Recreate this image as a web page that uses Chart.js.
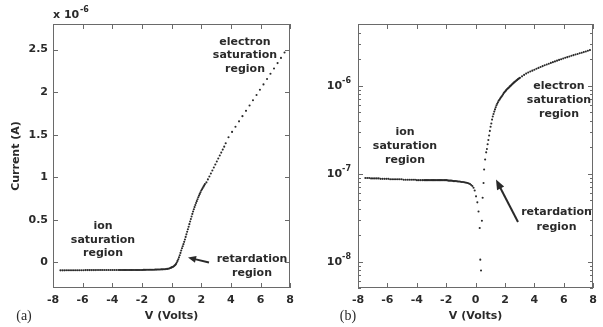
<!DOCTYPE html>
<html><head><meta charset="utf-8">
<script src="https://cdn.jsdelivr.net/npm/chart.js@4.4.1/dist/chart.umd.min.js"></script>
<style>
html,body{margin:0;padding:0;background:#fff;}
#wrap{position:relative;width:603px;height:327px;overflow:hidden;background:#fff;}
canvas{position:absolute;top:0;}
#ca{left:0;width:300px;height:327px;}
#cb{left:300px;width:303px;height:327px;}
</style></head><body>
<div id="wrap"><canvas id="ca" width="300" height="327"></canvas><canvas id="cb" width="303" height="327"></canvas></div>
<script>
// ---------- Panel (a): linear current, units of 1e-6 A ----------
const voltsA = [
 -7.50,-7.37,-7.24,-7.11,-6.98,-6.85,-6.72,-6.59,-6.46,-6.33,-6.20,-6.07,-5.94,-5.81,-5.68,-5.55,-5.42,-5.29,-5.16,-5.03,-4.90,-4.77,-4.64,-4.51,-4.38,-4.25,-4.12,-3.99,-3.86,-3.73,-3.60,
 -3.50,-3.42,-3.34,-3.26,-3.18,-3.10,-3.02,-2.94,-2.86,-2.78,-2.70,-2.62,-2.54,-2.46,-2.38,-2.30,-2.22,-2.14,-2.06,-1.98,-1.90,-1.82,-1.74,-1.66,-1.58,-1.50,-1.42,-1.34,-1.26,-1.18,-1.10,-1.02,-0.94,-0.86,-0.78,-0.70,-0.62,-0.54,-0.46,-0.38,-0.30,-0.22,-0.14,-0.06,
 0.00,0.05,0.10,0.15,0.20,0.25,0.30,0.35,0.40,0.45,0.50,0.55,0.60,0.65,0.70,0.75,0.80,0.85,0.90,0.95,1.00,1.05,1.10,1.15,1.20,1.25,1.30,1.35,1.40,1.45,1.50,1.55,1.60,1.65,1.70,1.75,1.80,1.85,1.90,1.95,2.00,2.05,2.10,2.15,2.20,2.25,
 2.35,2.45,2.55,2.65,2.75,2.85,2.95,3.05,3.15,3.25,3.35,3.45,3.55,3.65,
 3.84,4.08,4.31,4.55,4.78,5.02,5.26,5.49,5.73,5.96,6.20,6.44,6.67,6.91,7.15,7.38,7.62
];
const currentA = [
 -0.093,-0.093,-0.093,-0.092,-0.092,-0.092,-0.092,-0.092,-0.091,-0.091,-0.091,-0.091,-0.091,-0.090,-0.090,-0.090,-0.090,-0.090,-0.090,-0.089,-0.089,-0.089,-0.089,-0.089,-0.089,-0.088,-0.088,-0.088,-0.088,-0.088,-0.088,
 -0.088,-0.088,-0.088,-0.088,-0.088,-0.088,-0.088,-0.088,-0.088,-0.088,-0.088,-0.088,-0.088,-0.088,-0.088,-0.088,-0.088,-0.088,-0.088,-0.088,
 -0.087,-0.087,-0.087,-0.086,-0.086,-0.086,-0.086,-0.085,-0.085,-0.085,-0.084,-0.084,-0.083,-0.083,-0.082,-0.081,-0.081,-0.080,-0.079,-0.078,-0.076,-0.074,-0.069,-0.064,
 -0.058,-0.054,-0.050,-0.045,-0.037,-0.029,-0.017,0.000,0.018,0.038,0.060,0.085,0.112,0.140,0.167,0.191,0.215,0.242,0.270,0.300,0.330,0.360,0.390,0.420,0.450,0.480,0.510,0.540,0.570,0.598,0.625,0.650,0.675,0.698,0.720,0.743,0.765,0.785,0.805,0.825,0.845,0.860,0.875,0.890,0.905,0.920,
 0.940,0.975,1.010,1.045,1.080,1.115,1.150,1.185,1.220,1.255,1.290,1.325,1.360,1.400,
 1.470,1.533,1.594,1.657,1.718,1.780,1.843,1.904,1.967,2.028,2.091,2.154,2.215,2.278,2.341,2.402,2.465
];

// ---------- Panel (b): |current| on a log axis, amperes ----------
const voltsB = [
 -7.50,-7.37,-7.24,-7.11,-6.98,-6.85,-6.72,-6.59,-6.46,-6.33,-6.20,-6.07,-5.94,-5.81,-5.68,-5.55,-5.42,-5.29,-5.16,-5.03,-4.90,-4.77,-4.64,-4.51,-4.38,-4.25,-4.12,-3.99,-3.86,-3.73,-3.60,
 -3.50,-3.42,-3.34,-3.26,-3.18,-3.10,-3.02,-2.94,-2.86,-2.78,-2.70,-2.62,-2.54,-2.46,-2.38,-2.30,-2.22,-2.14,-2.06,-1.98,-1.90,-1.82,-1.74,-1.66,-1.58,-1.50,-1.42,-1.34,-1.26,-1.18,-1.10,-1.02,-0.94,-0.86,-0.78,-0.70,-0.62,-0.54,-0.46,-0.38,-0.30,-0.22,-0.14,-0.06,
 0.03,0.12,0.20,0.28,0.32,0.37,0.43,0.48,0.54,0.58,0.65,0.72,
 0.77,0.82,0.87,0.92,0.97,1.02,1.07,1.12,1.17,1.22,1.27,1.32,1.37,1.42,1.47,1.52,1.57,1.62,1.67,1.72,1.77,1.82,1.87,1.92,1.97,2.02,2.07,2.12,2.17,2.22,2.27,2.32,2.37,2.42,2.47,2.52,2.57,2.62,2.67,2.72,2.77,2.82,2.87,2.92,2.97,3.02,
 3.16,3.30,3.44,3.58,3.72,3.86,4.00,4.14,4.28,4.42,4.56,4.70,4.84,4.98,5.12,5.26,5.40,5.54,5.68,5.82,5.96,6.10,6.24,6.38,6.52,6.66,6.80,6.94,7.08,7.22,7.36,7.50,7.64,7.78
];
const currentB = [
 8.9e-8,8.9e-8,8.9e-8,8.8e-8,8.8e-8,8.8e-8,8.8e-8,8.8e-8,8.7e-8,8.7e-8,8.7e-8,8.7e-8,8.7e-8,8.6e-8,8.6e-8,8.6e-8,8.6e-8,8.6e-8,8.6e-8,8.6e-8,8.5e-8,8.5e-8,8.5e-8,8.5e-8,8.5e-8,8.5e-8,8.5e-8,8.4e-8,8.4e-8,8.4e-8,8.4e-8,
 8.4e-8,8.4e-8,8.4e-8,8.4e-8,8.4e-8,8.4e-8,8.4e-8,8.4e-8,8.4e-8,8.4e-8,8.4e-8,8.4e-8,8.4e-8,8.4e-8,8.4e-8,8.4e-8,8.4e-8,8.4e-8,8.4e-8,8.4e-8,
 8.35e-8,8.3e-8,8.3e-8,8.3e-8,8.25e-8,8.2e-8,8.2e-8,8.2e-8,8.15e-8,8.1e-8,8.1e-8,8.05e-8,8.0e-8,8.0e-8,7.95e-8,7.9e-8,7.85e-8,7.8e-8,7.7e-8,7.6e-8,7.4e-8,7.2e-8,6.9e-8,6.4e-8,
 5.5e-8,4.7e-8,3.7e-8,2.4e-8,1.05e-8,7.9e-9,2.9e-8,5.3e-8,7.8e-8,1.11e-7,1.44e-7,1.74e-7,
 1.9e-7,2.15e-7,2.4e-7,2.7e-7,3.05e-7,3.4e-7,3.7e-7,4.1e-7,4.45e-7,4.75e-7,5.05e-7,5.35e-7,5.65e-7,5.95e-7,6.2e-7,6.45e-7,6.7e-7,6.9e-7,7.1e-7,7.3e-7,7.5e-7,7.7e-7,7.95e-7,8.2e-7,8.4e-7,8.6e-7,8.8e-7,9.0e-7,9.2e-7,9.35e-7,9.5e-7,9.7e-7,9.9e-7,1.005e-6,1.025e-6,1.045e-6,1.065e-6,1.085e-6,1.1e-6,1.12e-6,1.14e-6,1.155e-6,1.175e-6,1.19e-6,1.21e-6,1.225e-6,
 1.27e-6,1.32e-6,1.365e-6,1.405e-6,1.44e-6,1.475e-6,1.512e-6,1.549e-6,1.586e-6,1.623e-6,1.659e-6,1.696e-6,1.733e-6,1.770e-6,1.807e-6,1.843e-6,1.880e-6,1.917e-6,1.954e-6,1.991e-6,2.028e-6,2.064e-6,2.101e-6,2.138e-6,2.175e-6,2.212e-6,2.248e-6,2.285e-6,2.322e-6,2.359e-6,2.396e-6,2.433e-6,2.48e-6,2.525e-6
];

// ---------- Tick values and labels ----------
const xTickValues = [-8,-6,-4,-2,0,2,4,6,8];
const xTickLabels = ['-8','-6','-4','-2','0','2','4','6','8'];
const yTickValuesA = [0,0.5,1,1.5,2,2.5];
const yTickLabelsA = ['0','0.5','1','1.5','2','2.5'];
const yTickValuesB = [1e-8,1e-7,1e-6];
const yTickExponentsB = ['-8','-7','-6'];
const yMinorB = [];
[1e-9,1e-8,1e-7,1e-6].forEach(d => { for (let k = 2; k <= 9; k++) { const v = k*d; if (v >= 5e-9 && v <= 5e-6) yMinorB.push(v); } });

const FONT = '"DejaVu Sans", "Liberation Sans", sans-serif';
const INK = '#2a2a2a';
const BOLD11 = 'bold 11px ' + FONT;
const BOLD8 = 'bold 8px ' + FONT;
const SERIF = '14px "Liberation Serif", "DejaVu Serif", serif';

const decorA = {
  yMajor: yTickValuesA, yMinor: [], logLabels: false,
  texts: [
    {t:'electron', x:245, y:42, f:BOLD11}, {t:'saturation', x:245, y:55.5, f:BOLD11}, {t:'region', x:245, y:69, f:BOLD11},
    {t:'ion', x:103, y:226, f:BOLD11}, {t:'saturation', x:103, y:240, f:BOLD11}, {t:'region', x:103, y:253.5, f:BOLD11},
    {t:'retardation', x:252, y:259.5, f:BOLD11}, {t:'region', x:252, y:273.5, f:BOLD11},
    {t:'x 10', x:53, y:15, f:BOLD11, a:'left'}, {t:'-6', x:80, y:10, f:BOLD8, a:'left'},
    {t:'(a)', x:24, y:316, f:SERIF}
  ],
  arrows: [{x1:209, y1:262.5, x2:188, y2:257.5, w:2, hl:8, hw:3.5}]
};
const decorB = {
  yMajor: yTickValuesB, yMinor: yMinorB, logLabels: true,
  texts: [
    {t:'ion', x:105, y:132.5, f:BOLD11}, {t:'saturation', x:105, y:146.5, f:BOLD11}, {t:'region', x:105, y:160.5, f:BOLD11},
    {t:'electron', x:259, y:86, f:BOLD11}, {t:'saturation', x:259, y:100, f:BOLD11}, {t:'region', x:259, y:114.5, f:BOLD11},
    {t:'retardation', x:256.5, y:212.5, f:BOLD11}, {t:'region', x:256.5, y:227, f:BOLD11},
    {t:'(b)', x:48, y:316, f:SERIF}
  ],
  arrows: [{x1:218, y1:222, x2:196, y2:179.5, w:2, hl:10, hw:4}]
};

function makeFrame(d) {
  return {
    id: 'frame',
    afterDraw(chart) {
      const {ctx, chartArea: a} = chart;
      const xs = chart.scales.x, ys = chart.scales.y;
      const L = Math.round(a.left), R = Math.round(a.right), T = Math.round(a.top), B = Math.round(a.bottom);
      ctx.save();
      ctx.strokeStyle = '#6a6a6a'; ctx.lineWidth = 1;
      ctx.strokeRect(L + 0.5, T + 0.5, R - L - 1, B - T - 1);
      ctx.beginPath();
      xTickValues.forEach(v => {
        const p = Math.round(xs.getPixelForValue(v)) + 0.5;
        ctx.moveTo(p, B); ctx.lineTo(p, B - 5);
        ctx.moveTo(p, T); ctx.lineTo(p, T + 5);
      });
      d.yMajor.forEach(v => {
        const p = Math.round(ys.getPixelForValue(v)) + 0.5;
        ctx.moveTo(L, p); ctx.lineTo(L + 5, p);
        ctx.moveTo(R, p); ctx.lineTo(R - 5, p);
      });
      d.yMinor.forEach(v => {
        const p = Math.round(ys.getPixelForValue(v)) + 0.5;
        ctx.moveTo(L, p); ctx.lineTo(L + 3, p);
        ctx.moveTo(R, p); ctx.lineTo(R - 3, p);
      });
      ctx.stroke();
      ctx.fillStyle = INK; ctx.textBaseline = 'middle';
      if (d.logLabels) {
        // "10" with a raised exponent, right-aligned against the axis
        yTickValuesB.forEach((v, i) => {
          const p = ys.getPixelForValue(v);
          ctx.font = BOLD8; ctx.textAlign = 'right';
          ctx.fillText(yTickExponentsB[i], L - 7, p - 5);
          const ew = ctx.measureText(yTickExponentsB[i]).width;
          ctx.font = BOLD11;
          ctx.fillText('10', L - 7 - ew, p + 0.5);
        });
      }
      d.texts.forEach(s => { ctx.font = s.f; ctx.textAlign = s.a || 'center'; ctx.fillText(s.t, s.x, s.y); });
      ctx.strokeStyle = INK;
      d.arrows.forEach(ar => {
        const dx = ar.x2 - ar.x1, dy = ar.y2 - ar.y1, len = Math.hypot(dx, dy), ux = dx/len, uy = dy/len;
        const bx = ar.x2 - ux*ar.hl, by = ar.y2 - uy*ar.hl;
        ctx.lineWidth = ar.w;
        ctx.beginPath(); ctx.moveTo(ar.x1, ar.y1); ctx.lineTo(bx + ux, by + uy); ctx.stroke();
        ctx.beginPath(); ctx.moveTo(ar.x2, ar.y2);
        ctx.lineTo(bx - uy*ar.hw, by + ux*ar.hw); ctx.lineTo(bx + uy*ar.hw, by - ux*ar.hw);
        ctx.closePath(); ctx.fill();
      });
      ctx.restore();
    }
  };
}

const tickFont = {family: FONT, size: 11, weight: 'bold'};

function xScale() {
  return {
    type: 'linear', min: -8, max: 8,
    grid: {display: false, drawTicks: false}, border: {display: false},
    afterBuildTicks: s => { s.ticks = xTickValues.map(v => ({value: v})); },
    afterFit: s => { s.height = 39; },
    ticks: {autoSkip: false, maxRotation: 0, padding: 6, color: INK, font: tickFont,
            callback: (v, i) => xTickLabels[i]},
    title: {display: true, text: 'V (Volts)', color: INK, font: {family: FONT, size: 11, weight: 'bold'}, padding: {top: 0, bottom: 4}}
  };
}

function pointSet(xs, ys) {
  return [{
    data: xs.map((v, i) => ({x: v, y: ys[i]})),
    pointRadius: 1.05, pointHoverRadius: 1.05, pointBorderWidth: 0,
    pointBackgroundColor: '#2a2a2a', backgroundColor: '#2a2a2a', borderColor: '#2a2a2a', showLine: false
  }];
}

const common = {
  responsive: false, animation: false, devicePixelRatio: 1,
  plugins: {legend: {display: false}, tooltip: {enabled: false}},
  events: []
};

new Chart(document.getElementById('ca'), {
  type: 'scatter',
  data: {datasets: pointSet(voltsA, currentA)},
  options: Object.assign({}, common, {
    layout: {padding: {top: 24, right: 5, left: 0, bottom: 0}},
    scales: {
      x: xScale(),
      y: {
        type: 'linear', min: -0.3, max: 2.8,
        grid: {display: false, drawTicks: false}, border: {display: false},
        afterBuildTicks: s => { s.ticks = yTickValuesA.map(v => ({value: v})); },
        afterFit: s => { s.width = 53; },
        ticks: {autoSkip: false, padding: 5, color: INK, font: tickFont, callback: (v, i) => yTickLabelsA[i]},
        title: {display: true, text: 'Current (A)', color: INK, font: {family: FONT, size: 11, weight: 'bold'}, padding: {top: 10, bottom: 0}}
      }
    }
  }),
  plugins: [makeFrame(decorA)]
});

new Chart(document.getElementById('cb'), {
  type: 'scatter',
  data: {datasets: pointSet(voltsB, currentB)},
  options: Object.assign({}, common, {
    layout: {padding: {top: 24, right: 4, left: 0, bottom: 0}},
    scales: {
      x: xScale(),
      y: {
        type: 'logarithmic', min: 5e-9, max: 5e-6,
        grid: {display: false, drawTicks: false}, border: {display: false},
        afterBuildTicks: s => { s.ticks = yTickValuesB.map(v => ({value: v})); },
        afterFit: s => { s.width = 58; },
        ticks: {display: false}
      }
    }
  }),
  plugins: [makeFrame(decorB)]
});
</script></body></html>
